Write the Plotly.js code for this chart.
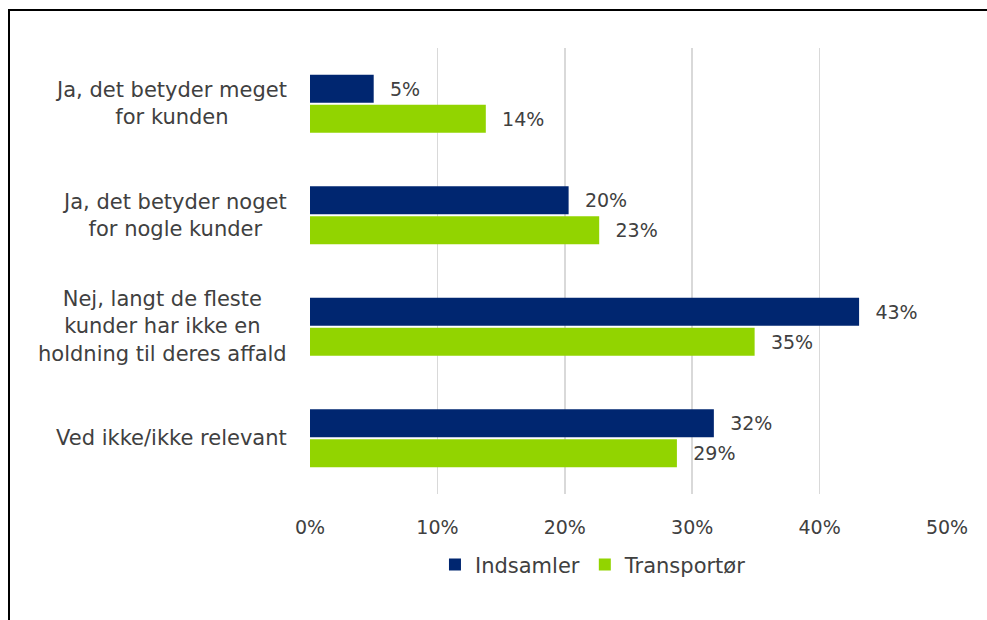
<!DOCTYPE html>
<html>
<head>
<meta charset="utf-8">
<script src="https://cdn.plot.ly/plotly-3.0.1.min.js"></script>
<style>
  html, body { margin: 0; padding: 0; background: #fff; }
  #wrap { position: relative; width: 987px; height: 620px; }
  #chart { width: 987px; height: 620px; }
  #frame { position: absolute; left: 8px; top: 9px; right: 0; bottom: 0;
           border-left: 2px solid #000; border-top: 2px solid #000; pointer-events: none; }
</style>
</head>
<body>
<div id="wrap">
  <div id="chart"></div>
  <div id="frame"></div>
</div>
<script>
const categories = [
  "Ja, det betyder meget<br>for kunden",
  "Ja, det betyder noget<br>for nogle kunder",
  "Nej, langt de fleste<br>kunder har ikke en<br>holdning til deres affald",
  "Ved ikke/ikke relevant"
];
const seriesNames = ["Indsamler", "Transportør"];
const indsamler = [5.0, 20.3, 43.1, 31.7];
const transportor = [13.8, 22.7, 34.9, 28.8];
const tickValues = [0, 10, 20, 30, 40, 50];
const tickLabels = ["0%", "10%", "20%", "30%", "40%", "50%"];

const colors = ["#002670", "#92D400"];
const FAM = "DejaVu Sans, sans-serif";
const txtColor = "#404040";

const traces = [indsamler, transportor].map((vals, i) => ({
  type: "bar",
  orientation: "h",
  name: seriesNames[i],
  x: vals,
  y: categories,
  marker: { color: colors[i] },
  text: vals.map(v => "\u2002\u2009" + Math.round(v) + "%"),
  textposition: "outside",
  textfont: { family: FAM, size: 19, color: txtColor },
  cliponaxis: false,
  hoverinfo: "skip"
}));

const annotations = categories.map(c => ({
  xref: "paper", yref: "y",
  x: 0, y: c, xshift: -21,
  xanchor: "right", yanchor: "middle",
  align: "center",
  text: c, showarrow: false,
  font: { family: FAM, size: 21, color: txtColor }
}));

const layout = {
  width: 987, height: 620,
  margin: { l: 310, r: 40, t: 48, b: 126 },
  paper_bgcolor: "#fff", plot_bgcolor: "#fff",
  barmode: "group",
  bargap: 0.46,
  bargroupgap: 0.07,
  showlegend: true,
  legend: {
    orientation: "h", x: 0.445, xanchor: "center", y: -0.159, yanchor: "middle",
    font: { family: FAM, size: 21, color: txtColor },
    traceorder: "normal", itemwidth: 30
  },
  xaxis: {
    range: [0, 50], tickvals: tickValues, ticktext: tickLabels,
    showgrid: true, gridcolor: "#d9d9d9", gridwidth: 1.5,
    zeroline: false, showline: false,
    ticks: "outside", ticklen: 16, tickcolor: "rgba(0,0,0,0)",
    tickfont: { family: FAM, size: 19, color: txtColor },
    fixedrange: true
  },
  yaxis: {
    type: "category", autorange: "reversed",
    showticklabels: false, showgrid: false, zeroline: false, showline: false,
    fixedrange: true
  },
  annotations: annotations
};

Plotly.newPlot("chart", traces, layout, { displayModeBar: false, staticPlot: true });
</script>
</body>
</html>
